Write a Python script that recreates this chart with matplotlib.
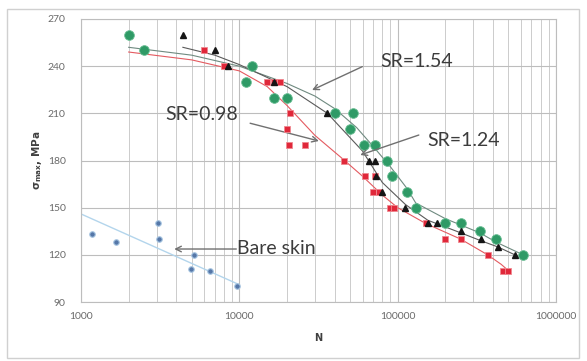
import numpy as np
import matplotlib
matplotlib.use("Agg")
import matplotlib.pyplot as plt
from matplotlib.patches import Rectangle

# ---------------- data ----------------
green_N = [2000, 2500, 11000, 12000, 16500, 20000, 40000, 52000, 50000, 61000,
           72000, 86000, 92000, 115000, 130000, 200000, 250000, 330000, 420000, 620000]
green_S = [260, 250, 230, 240, 220, 220, 210, 210, 200, 190,
           190, 180, 170, 160, 150, 140, 140, 135, 130, 120]

red_N = [6000, 8000, 15000, 16500, 18000, 21000, 20000, 20500, 26000, 46000,
         62000, 72000, 70000, 76000, 90000, 95000, 150000, 200000, 250000,
         370000, 460000, 500000]
red_S = [250, 240, 230, 230, 230, 210, 200, 190, 190, 180,
         170, 170, 160, 160, 150, 150, 140, 130, 130,
         120, 110, 110]

tri_N = [4400, 7000, 8500, 16500, 36000, 66000, 72000, 73000, 80000, 112000,
         155000, 178000, 250000, 335000, 430000, 550000]
tri_S = [260, 250, 240, 230, 210, 180, 180, 170, 160, 150,
         140, 140, 135, 130, 125, 120]

bare_N = [1180, 1660, 3050, 3130, 5200, 4950, 6500, 9600]
bare_S = [133, 128, 140, 130, 120, 111, 110, 100]

# trend curves
green_tr_N = [2000, 5000, 10000, 20000, 30000, 40000, 55000, 70000, 90000,
              115000, 130000, 200000, 250000, 330000, 420000, 620000]
green_tr_S = [252, 247, 240, 229, 221, 213, 201, 189, 176,
              162, 153, 143, 139, 134, 128, 120]

red_tr_N = [2000, 5000, 10000, 15000, 20000, 30000, 45000, 60000, 80000,
            100000, 150000, 250000, 370000, 450000, 500000]
red_tr_S = [249, 244, 237, 227, 215, 196, 181, 170, 158,
            150, 140, 130, 120, 114, 110]

tri_tr_N = [4400, 7000, 10000, 20000, 36000, 60000, 80000, 112000, 155000,
            250000, 335000, 430000, 550000]
tri_tr_S = [252, 247, 241, 227, 210, 186, 166, 152, 142,
            134, 129, 125, 120]

bare_tr_N = [1000, 10000]
bare_tr_S = [146, 101]

x_ticks = [1000, 10000, 100000, 1000000]
x_tick_labels = ["1000", "10000", "100000", "1000000"]
y_ticks = [90, 120, 150, 180, 210, 240, 270]

# ---------------- figure ----------------
W, H = 587, 361
fig = plt.figure(figsize=(W / 100, H / 100), dpi=100)
fig.patch.set_facecolor("white")
fig.patches.append(Rectangle((7 / W, 3 / H), (W - 8) / W - 7 / W, (H - 9) / H - 3 / H,
                             transform=fig.transFigure, fill=False,
                             edgecolor="#d0d0d0", linewidth=1.0))

ax = fig.add_axes([81 / W, 1 - 302 / H, (556 - 81) / W, (302 - 19) / H])
ax.set_xscale("log")
ax.set_xlim(1000, 1000000)
ax.set_ylim(90, 270)

ax.set_xticks(x_ticks)
ax.set_xticklabels(x_tick_labels)
ax.set_yticks(y_ticks)
ax.xaxis.set_minor_locator(matplotlib.ticker.LogLocator(base=10, subs=np.arange(2, 10)))
ax.xaxis.set_minor_formatter(matplotlib.ticker.NullFormatter())
ax.grid(True, which="major", axis="both", color="#bdbdbd", linewidth=0.8)
ax.grid(True, which="minor", axis="x", color="#cccccc", linewidth=0.7)
ax.set_axisbelow(True)
for s in ax.spines.values():
    s.set_color("#bdbdbd")
    s.set_linewidth(0.8)
ax.tick_params(axis="both", which="both", length=0, labelsize=7.5,
               labelcolor="#6a6a6a")
ax.tick_params(axis="y", pad=11)
ax.tick_params(axis="x", pad=7)
for lab in ax.get_xticklabels() + ax.get_yticklabels():
    lab.set_family("Lato")

# trend lines
ax.plot(bare_tr_N, bare_tr_S, color="#b3d5ec", linewidth=1.0, zorder=2)
ax.plot(green_tr_N, green_tr_S, color="#6f8a80", linewidth=0.8, zorder=2)
ax.plot(tri_tr_N, tri_tr_S, color="#5a5a5a", linewidth=0.8, zorder=2)
ax.plot(red_tr_N, red_tr_S, color="#e45a60", linewidth=0.8, zorder=2)

# markers
ax.plot(bare_N, bare_S, linestyle="none", marker="o", markersize=4,
        color="#5577a8", markeredgecolor="#a8c6e2", markeredgewidth=0.8, zorder=3)
ax.plot(green_N, green_S, linestyle="none", marker="o", markersize=7,
        color="#2f9a66", markeredgecolor="#6cbf95", markeredgewidth=0.6, zorder=3)
ax.plot(red_N, red_S, linestyle="none", marker="s", markersize=5.0,
        color="#e0283a", markeredgecolor="#f08890", markeredgewidth=0.6, zorder=4)
ax.plot(tri_N, tri_S, linestyle="none", marker="^", markersize=4.8,
        color="#151515", zorder=5)

# annotations
arrow = dict(arrowstyle="->", color="#707070", linewidth=1.0, shrinkA=0, shrinkB=0)
tkw = dict(fontsize=14, family="Lato", color="#3c3c3c", va="center", ha="left")
ax.annotate("", xy=(28800, 224.8), xytext=(59800, 239.7), arrowprops=arrow)
ax.text(78000, 242.7, "SR=1.54", **tkw)
ax.annotate("", xy=(31800, 192.4), xytext=(11700, 203.7), arrowprops=arrow)
ax.text(3400, 209, "SR=0.98", **tkw)
ax.annotate("", xy=(58000, 183.5), xytext=(136000, 196.2), arrowprops=arrow)
ax.text(155000, 193, "SR=1.24", **tkw)
ax.annotate("", xy=(3880, 123.7), xytext=(9570, 123.7), arrowprops=arrow)
ax.text(9700, 124, "Bare skin", **tkw)

ax.set_xlabel("N", fontsize=7, fontweight="bold", color="#404040", labelpad=9)
ax.set_ylabel(r"$\mathbf{\sigma_{max}}$, MPa", fontsize=7.5, fontweight="bold",
              color="#404040", labelpad=3)

fig.savefig("out.png", dpi=100)
